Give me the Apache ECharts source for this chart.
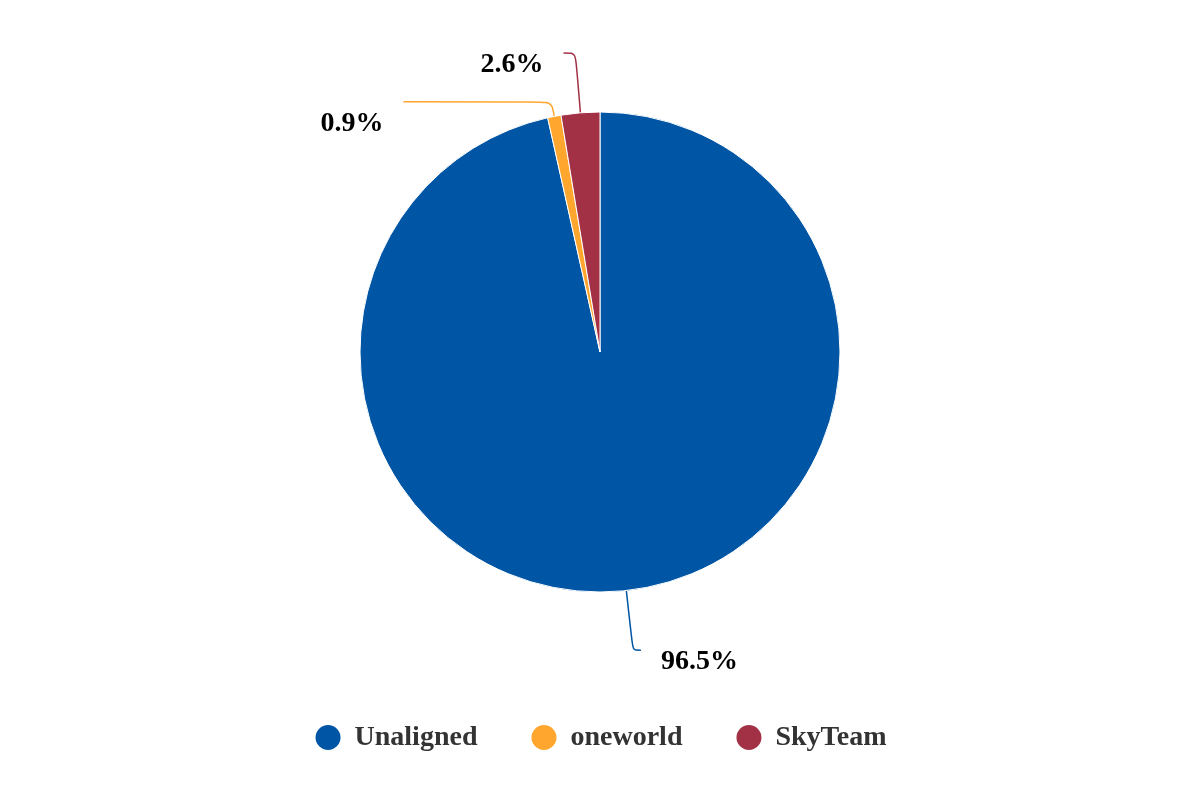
<!DOCTYPE html>
<html><head><meta charset="utf-8">
<script src="https://cdn.jsdelivr.net/npm/echarts@6/dist/echarts.min.js"></script>
<style>html,body{margin:0;padding:0;background:#fff}#c{width:1200px;height:800px}</style>
</head><body><div id="c"></div>
<script>
const categories = ['Unaligned', 'oneworld', 'SkyTeam'];
const values = [96.5, 0.9, 2.6];
const colors = ['#0055A4', '#FFA62F', '#A33146'];

const chart = echarts.init(document.getElementById('c'));
const labelFont = { fontFamily: 'Liberation Serif', fontWeight: 'bold', fontSize: 28, color: '#000' };
chart.setOption({
  animation: false,
  color: colors,
  legend: {
    bottom: 43,
    left: 'center',
    icon: 'circle',
    itemWidth: 27,
    itemHeight: 27,
    itemGap: 52,
    textStyle: { fontFamily: 'Liberation Serif', fontWeight: 'bold', fontSize: 28, color: '#333', padding: [0, 0, 0, 8] },
    data: categories
  },
  series: [{
    type: 'pie',
    center: ['50%', '44%'],
    radius: 240,
    startAngle: 90,
    clockwise: true,
    itemStyle: { borderColor: '#fff', borderWidth: 1 },
    label: {
      show: true,
      formatter: p => (p.dataIndex === 1 ? '{w|' : '{v|') + p.value + '%}',
      distanceToLabelLine: 20,
      rich: {
        v: Object.assign({ padding: [24, 0, 0, 0] }, labelFont),
        w: Object.assign({ padding: [44, 0, 0, 0] }, labelFont)
      }
    },
    labelLine: { show: true, smooth: true, length: 60, length2: 8, lineStyle: { width: 1.5 } },
    data: categories.map((c, i) => {
      const d = { name: c, value: values[i] };
      if (i === 1) d.labelLine = { length: 15, length2: 148 };
      if (i === 2) d.labelLine = { length: 60, length2: 12 };
      return d;
    })
  }]
});
</script></body></html>
